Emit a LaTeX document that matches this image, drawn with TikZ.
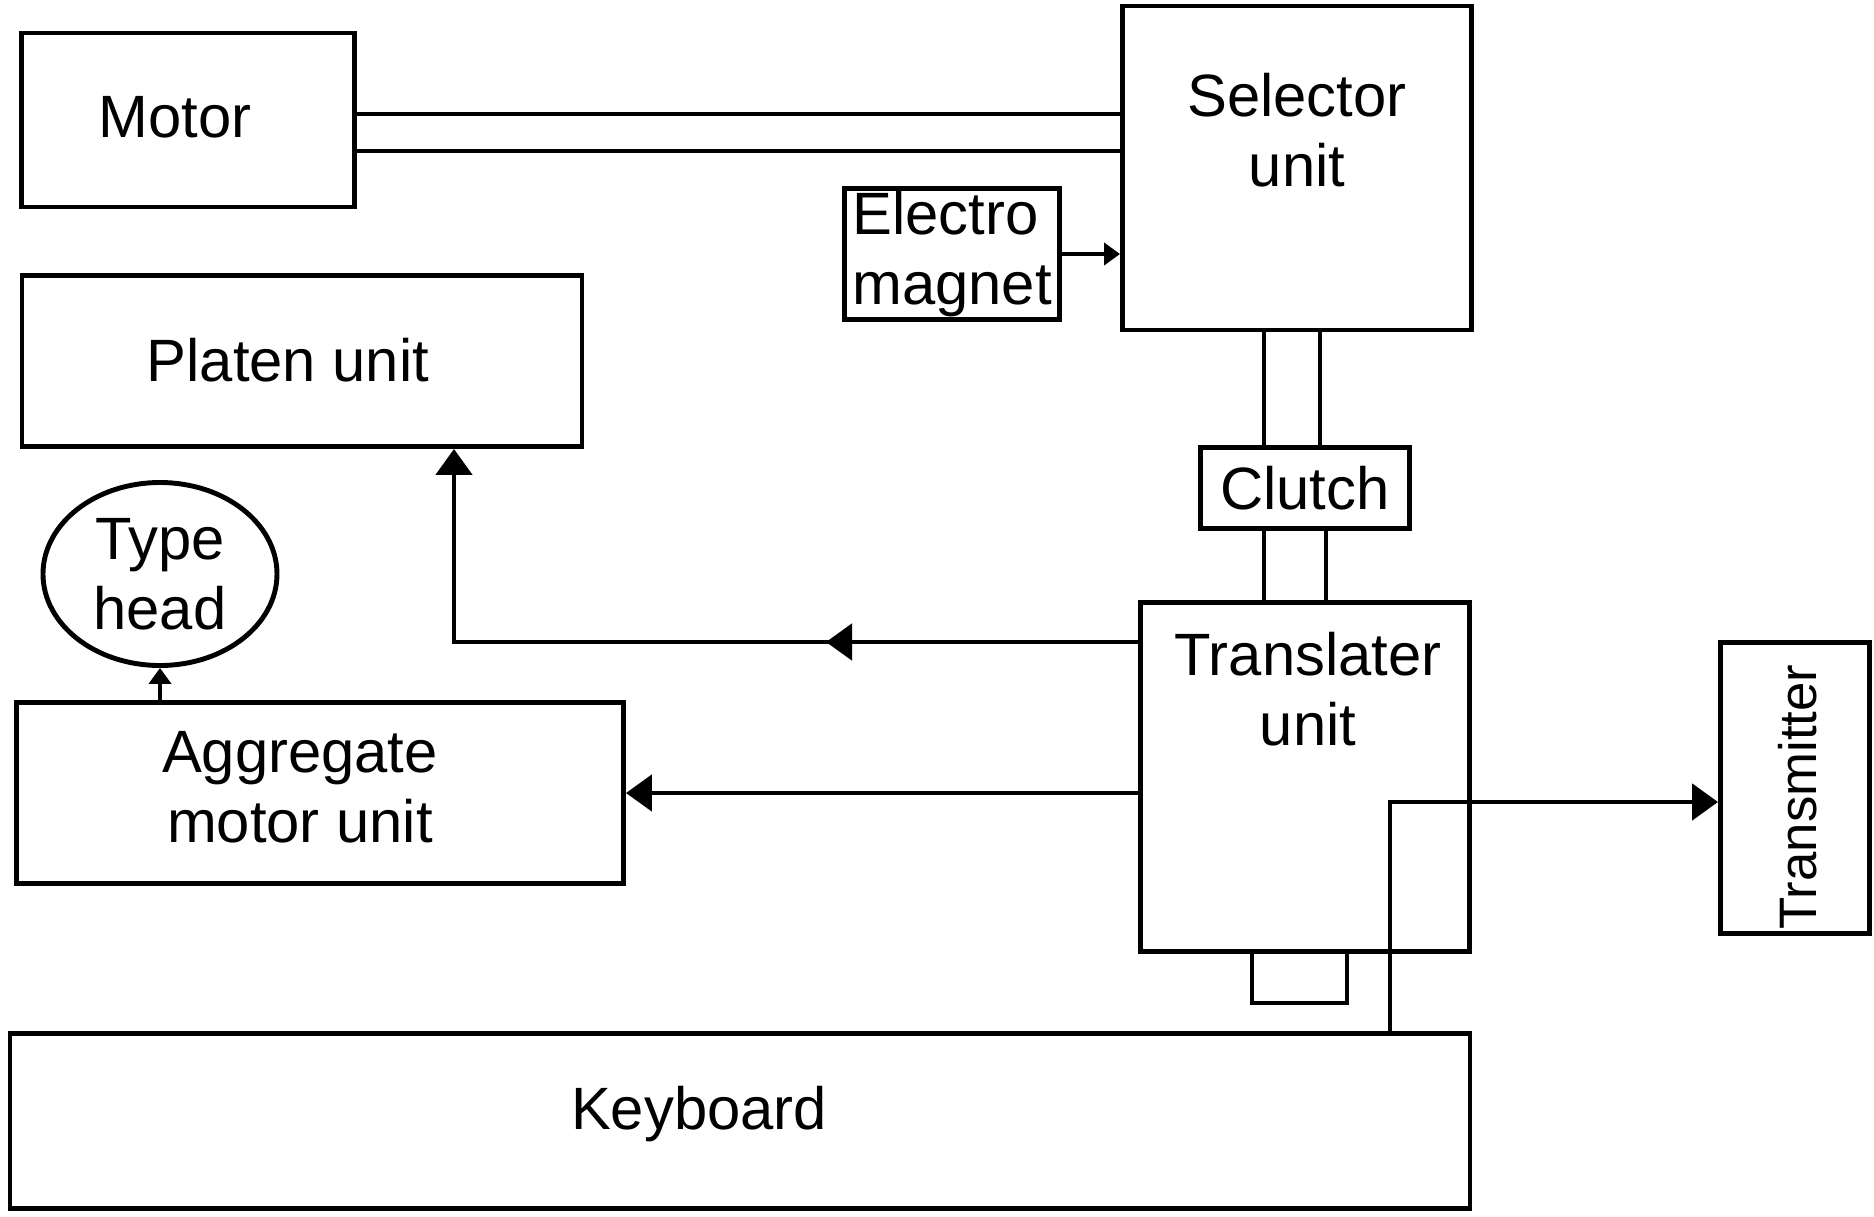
\documentclass[tikz,border=0pt]{standalone}
\usepackage{fontspec}
\setmainfont{Liberation Sans}
\usetikzlibrary{arrows.meta, calc, positioning, shapes.geometric}

\begin{document}
\begin{tikzpicture}[x=0.1mm, y=-0.1mm, line width=1.4pt,
    font=\fontsize{17}{20}\selectfont,
    unit/.style={draw, inner sep=0pt, align=center},
    bigtip/.style={-{Triangle[width=3.6mm, length=2.6mm]}},
    smalltip/.style={-{Triangle[width=2.2mm, length=1.6mm]}}]
  \useasboundingbox (0,0) rectangle (1874,1217);

  % blocks
  \node[unit, minimum width=33.3mm, minimum height=17.4mm] (motor) at (188,120) {};
  \node (motortext) at (175,117) {Motor};
  \node[unit, minimum width=34.9mm, minimum height=32.4mm] (sel) at (1297,168) {};
  \node[align=center] (seltext) at (1297,130) {Selector\\unit};
  \node[unit, align=left, minimum width=21.5mm, minimum height=13.1mm] (em) at (952,254) {Electro\\magnet};
  \node[unit, minimum width=56mm, minimum height=17.1mm] (platen) at (302,361) {};
  \node (platentext) at (288,360) {Platen unit};
  \node[unit, ellipse, minimum width=23.4mm, minimum height=18.3mm] (th) at (160,574) {Type\\head};
  \node[unit, minimum width=60.7mm, minimum height=18.1mm] (agg) at (320,793) {};
  \node[align=center] (aggtext) at (300,787) {Aggregate\\motor unit};
  \node[unit, minimum width=20.9mm, minimum height=8.1mm] (clutch) at (1305,488) {Clutch};
  \node[unit, minimum width=32.9mm, minimum height=34.9mm] (trans) at (1305,777) {};
  \node[align=center] (transtext) at (1308,689) {Translater\\unit};
  \node[unit, minimum width=146mm, minimum height=17.5mm] (kb) at (740,1121) {};
  \node (kbtext) at (699,1114) {Keyboard};
  \node[unit, minimum width=14.9mm, minimum height=29.1mm] (tx) at (1795,788) {};
  \node[rotate=90, font=\fontsize{15}{18}\selectfont] (txtext) at (1798,797) {Transmitter};

  % shafts
  \draw (motor.east |- 0,114) -- (sel.west |- 0,114);
  \draw (motor.east |- 0,151) -- (sel.west |- 0,151);
  \draw (sel.south -| 1264,0) -- (clutch.north -| 1264,0);
  \draw (sel.south -| 1320,0) -- (clutch.north -| 1320,0);
  \draw (clutch.south -| 1264,0) -- (trans.north -| 1264,0);
  \draw (clutch.south -| 1326,0) -- (trans.north -| 1326,0);
  \draw (trans.south) ++(-53,0) -- ++(0,49) -- ++(95,0) -- ++(0,-49);

  % signals
  \draw[smalltip] (em.east) -- (em.east -| sel.west);
  \draw[bigtip] (trans.west |- 0,642) -| (platen.south -| 454,0);
  \draw[bigtip] (trans.west |- 0,642) -- (826,642);
  \draw[bigtip] (trans.west |- agg.east) -- (agg.east);
  \draw[smalltip] (agg.north -| th.south) -- (th.south);
  \draw[bigtip] (kb.north -| 1390,0) |- ($(tx.west)+(0,14)$);
\end{tikzpicture}
\end{document}
